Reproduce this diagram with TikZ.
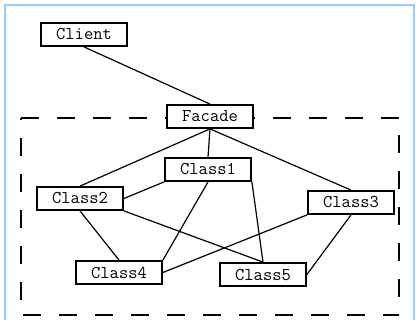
\documentclass[tikz,border=0pt]{standalone}
\begin{document}
\begin{tikzpicture}[x=1pt,y=-1pt,
  cls/.style={draw=black, line width=1.8pt, fill=white, minimum width=86pt, minimum height=23pt, inner sep=0pt, font=\ttfamily\fontsize{18}{18}\selectfont},
  conn/.style={line width=1.2pt, black},
  bound/.style={line width=2pt, black, dash pattern=on 18pt off 18pt},
  frame/.style={line width=2pt, color={rgb,255:red,153;green,204;blue,255}}]
\useasboundingbox (0,0) rectangle (417,320);
% frame
\draw[frame] (5,320) -- (5,5) -- (414,5) -- (414,320);
% dashed boundary
\draw[bound, dash phase=0pt] (21,118) -- (399,118);
\draw[bound, dash phase=34pt] (21,315) -- (399,315);
\draw[bound, dash phase=16pt] (21,118) -- (21,315);
\draw[bound, dash phase=19pt] (399,118) -- (399,315);
% nodes
\node[cls] (client) at (84,34.5) {Client};
\node[cls] (facade) at (210,116.5) {Facade};
\node[cls] (c1) at (208,169.5) {Class1};
\node[cls] (c2) at (80,198.5) {Class2};
\node[cls] (c3) at (351,202.5) {Class3};
\node[cls] (c4) at (119,272.5) {Class4};
\node[cls] (c5) at (263,274.5) {Class5};
% connectors
\draw[conn] (client.south) -- (facade.north);
\draw[conn] (facade.south) -- (c2.north);
\draw[conn] (facade.south) -- (c1.north);
\draw[conn] (facade.south) -- (c3.north);
\draw[conn] (c2.east) -- (c1.south west);
\draw[conn] (c2.south) -- (c4.north);
\draw[conn] (c2.south east) -- (c5.north);
\draw[conn] (c1.south east) -- (c5.north);
\draw[conn] (c1.south) -- (c4.north east);
\draw[conn] (c3.south west) -- (c4.east);
\draw[conn] (c3.south) -- (c5.east);
\end{tikzpicture}
\end{document}
